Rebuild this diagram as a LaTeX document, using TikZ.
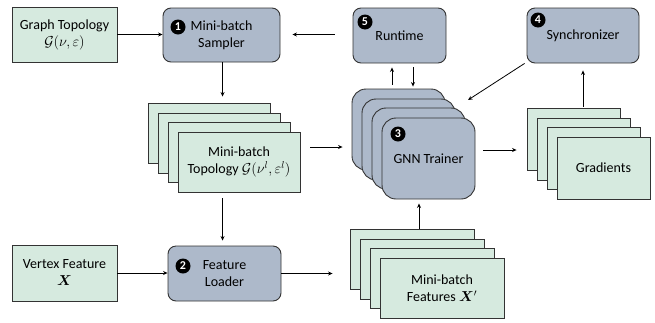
\documentclass[tikz,border=0pt]{standalone}
\usepackage{bm}
\usepackage{fontspec}
\setmainfont{Carlito}
\usetikzlibrary{arrows.meta}
\definecolor{gfill}{HTML}{D6EADF}
\definecolor{bfill}{HTML}{ADB9CA}
\definecolor{edge}{HTML}{333333}
\tikzset{
  gbox/.style={draw=edge, fill=gfill, line width=0.9pt, inner sep=0pt, align=center, font=\fontsize{14}{17}\selectfont},
  bbox/.style={draw=edge, fill=bfill, line width=0.9pt, rounded corners=8pt, inner sep=0pt, align=center, font=\fontsize{14}{17}\selectfont},
  tbox/.style={bbox, rounded corners=14pt},
  badge/.style={circle, fill=black, text=white, inner sep=0pt, minimum size=15pt, font=\fontsize{12}{12}\selectfont\bfseries},
  arr/.style={-{Stealth[length=4.5pt,width=4pt]}, line width=0.8pt, black}
}
\begin{document}
\begin{tikzpicture}[x=1pt,y=-1pt]
\useasboundingbox (0,0) rectangle (655,322);
% top row
\node[gbox, minimum width=105, minimum height=55] (gt) at (64.5,34.5) {Graph Topology\\$\mathcal{G}(\nu,\varepsilon)$};
\node[bbox, minimum width=117, minimum height=54] (sampler) at (221.5,35) {Mini-batch\\Sampler};
\node[bbox, minimum width=93, minimum height=55] (runtime) at (399.5,35.5) {Runtime};
\node[bbox, minimum width=112, minimum height=55] (sync) at (583,35.5) {Synchronizer};
\node[badge] (b1) at (178,27) {1};
\node[badge] (b5) at (365,22) {5};
\node[badge] (b4) at (538,20) {4};
% topology stack
\node[gbox, minimum width=122, minimum height=60] (topo1) at (209,133) {};
\node[gbox, minimum width=122, minimum height=60] (topo2) at (219,143) {};
\node[gbox, minimum width=122, minimum height=60] (topo3) at (229,152) {};
\node[gbox, minimum width=122, minimum height=60] (topo4) at (239,162) {Mini-batch\\Topology $\mathcal{G}(\nu^{l},\varepsilon^{l})$};
% trainer stack
\node[tbox, minimum width=93, minimum height=81] (tr1) at (398.5,129.5) {};
\node[tbox, minimum width=93, minimum height=81] (tr2) at (408.5,139.5) {};
\node[tbox, minimum width=93, minimum height=81] (tr3) at (418.5,148.5) {};
\node[tbox, minimum width=93, minimum height=81] (tr4) at (428.5,158.5) {GNN Trainer};
\node[badge] (b3) at (398,134) {3};
% gradients stack
\node[gbox, minimum width=93, minimum height=62] (gr1) at (573.5,139) {};
\node[gbox, minimum width=93, minimum height=62] (gr2) at (583.5,149) {};
\node[gbox, minimum width=93, minimum height=62] (gr3) at (593.5,158) {};
\node[gbox, minimum width=93, minimum height=62] (gr4) at (603.5,168) {Gradients};
% bottom row
\node[gbox, minimum width=105, minimum height=56] (vf) at (64.5,273) {Vertex Feature\\$\bm{X}$};
\node[bbox, minimum width=113, minimum height=55] (loader) at (224.5,273.5) {Feature\\Loader};
\node[badge] (b2) at (183,266) {2};
% features stack
\node[gbox, minimum width=124, minimum height=60] (ft1) at (412,259) {};
\node[gbox, minimum width=124, minimum height=60] (ft2) at (422,269) {};
\node[gbox, minimum width=124, minimum height=60] (ft3) at (432,278) {};
\node[gbox, minimum width=124, minimum height=60] (ft4) at (442,288) {Mini-batch\\Features $\bm{X}'$};
% connectors
\draw[arr] (gt.east) -- (sampler.west |- gt.east);
\draw[arr, shorten <=18pt, shorten >=12pt] (runtime.west |- gt.east) -- (sampler.east |- gt.east);
\draw[arr, shorten >=6pt] (sampler.south -| topo4.south west) ++(45,0) coordinate (c1) -- (c1 |- topo1.north);
\draw[arr, shorten <=6pt, shorten >=5pt] (topo4.south west) ++(45,0) coordinate (c2) -- (c2 |- loader.north);
\draw[arr] (vf.east) -- (loader.west |- vf.east);
\draw[arr, shorten <=10pt, shorten >=9pt] (topo4.east |- 0,147) coordinate (c3) -- (c3 -| tr1.west);
\draw[arr, shorten <=4pt, shorten >=4pt] (tr1.north -| 392,0) coordinate (c4) -- (c4 |- runtime.south);
\draw[arr, shorten <=4pt, shorten >=2pt] (runtime.south -| 413,0) coordinate (c5) -- (c5 |- tr1.north);
\draw[arr] (sync.south west) ++(-2,0) coordinate (c6) -- (468,100) coordinate (c7);
\draw[arr, shorten <=8pt, shorten >=10pt] (tr4.east |- 0,150) coordinate (c8) -- (c8 -| gr1.west);
\draw[arr, shorten <=1pt, shorten >=7pt] (gr1.north -| sync.south) -- (sync.south);
\draw[arr, shorten >=17pt] (loader.east) -- (ft1.west |- loader.east);
\draw[arr, shorten <=0pt, shorten >=4pt] (ft1.north -| 419,0) coordinate (c9) -- (c9 |- tr4.south);
\end{tikzpicture}
\end{document}
